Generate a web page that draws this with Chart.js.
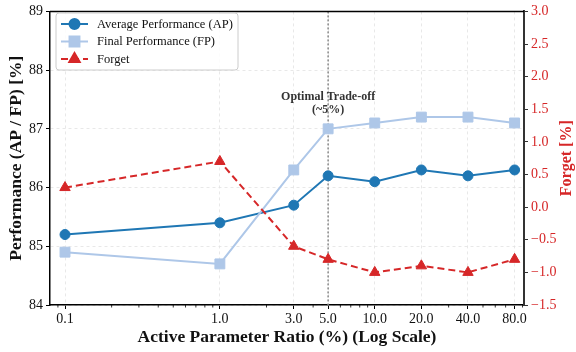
<!DOCTYPE html>
<html><head><meta charset="utf-8">
<script src="https://cdn.jsdelivr.net/npm/chart.js@4.4.0/dist/chart.umd.min.js"></script>
<style>html,body{margin:0;padding:0;background:#fff}#wrap{width:576px;height:352px}</style>
</head><body><div id="wrap"><canvas id="c" width="576" height="352"></canvas></div>
<script>
const ratios = [0.1, 1, 3, 5, 10, 20, 40, 80];
const apValues = [85.2, 85.4, 85.7, 86.2, 86.1, 86.3, 86.2, 86.3];
const fpValues = [84.9, 84.7, 86.3, 87.0, 87.1, 87.2, 87.2, 87.1];
const forgetValues = [0.3, 0.7, -0.6, -0.8, -1.0, -0.9, -1.0, -0.8];
const xTicks = [0.1, 1, 3, 5, 10, 20, 40, 80];
const xMinorTicks = [0.09, 0.2, 0.3, 0.4, 0.5, 0.6, 0.7, 0.8, 0.9, 2, 4, 6, 7, 8, 9, 30, 50, 60, 70, 90];
const optimalRatio = 5;
const annotationLines = ['Optimal Trade-off', '(~5%)'];
const seriesNames = ['Average Performance (AP)', 'Final Performance (FP)', 'Forget'];

const SERIF = '"Liberation Serif", "Times New Roman", serif';
const C_AP = '#1f77b4', C_FP = '#aec7e8', C_FG = '#d62728';

const pts = vals => ratios.map((r, i) => ({x: r, y: vals[i]}));

const styles = [
  {color: C_AP, pointStyle: 'circle', radius: 5, dash: []},
  {color: C_FP, pointStyle: 'rect', radius: 7, dash: []},
  {color: C_FG, pointStyle: 'triangle', radius: 6, dash: [7, 4]}
];

const extras = {
  id: 'extras',
  beforeDatasetsDraw(chart) {
    const {ctx, chartArea: a, scales: {x}} = chart;
    const px = x.getPixelForValue(optimalRatio);
    ctx.save();
    ctx.strokeStyle = '#888';
    ctx.lineWidth = 1.5;
    ctx.setLineDash([2, 2]);
    ctx.beginPath(); ctx.moveTo(px, a.top); ctx.lineTo(px, a.bottom); ctx.stroke();
    ctx.restore();
  },
  afterDraw(chart) {
    const {ctx, chartArea: a, scales: {x}} = chart;
    ctx.save();
    // top spine
    ctx.strokeStyle = '#000'; ctx.lineWidth = 1.5;
    ctx.beginPath(); ctx.moveTo(a.left, a.top); ctx.lineTo(a.right, a.top); ctx.stroke();
    // minor ticks
    ctx.lineWidth = 0.8;
    xMinorTicks.forEach(v => {
      if (v < x.min || v > x.max) return;
      const px = x.getPixelForValue(v);
      ctx.beginPath(); ctx.moveTo(px, a.bottom); ctx.lineTo(px, a.bottom + 2.5); ctx.stroke();
    });
    // annotation
    const px = x.getPixelForValue(optimalRatio);
    ctx.fillStyle = '#333';
    ctx.font = 'bold 12px ' + SERIF;
    ctx.textAlign = 'center'; ctx.textBaseline = 'middle';
    ctx.fillText(annotationLines[0], px, 97);
    ctx.fillText(annotationLines[1], px, 110);
    // right title
    ctx.save();
    ctx.translate(567, (a.top + a.bottom) / 2);
    ctx.rotate(-Math.PI / 2);
    ctx.fillStyle = C_FG;
    ctx.font = 'bold 16px ' + SERIF;
    ctx.fillText('Forget [%]', 0, 0);
    ctx.restore();
    // legend
    const lx = 56, ly = 13, lw = 182, lh = 57;
    ctx.fillStyle = 'rgba(255,255,255,0.85)';
    ctx.strokeStyle = '#ccc'; ctx.lineWidth = 1;
    ctx.beginPath();
    if (ctx.roundRect) ctx.roundRect(lx, ly, lw, lh, 3); else ctx.rect(lx, ly, lw, lh);
    ctx.fill(); ctx.stroke();
    const rows = [24, 41.5, 59];
    seriesNames.forEach((name, i) => {
      const s = styles[i], y = rows[i];
      ctx.strokeStyle = s.color; ctx.lineWidth = 2; ctx.setLineDash(s.dash);
      ctx.beginPath(); ctx.moveTo(61, y); ctx.lineTo(88, y); ctx.stroke();
      ctx.setLineDash([]);
      ctx.fillStyle = s.color;
      Chart.helpers.drawPoint(ctx, {pointStyle: s.pointStyle, radius: s.radius, rotation: 0, borderWidth: 1}, 74.5, y);
      ctx.fill();
      ctx.fillStyle = '#111';
      ctx.font = '12.5px ' + SERIF;
      ctx.textAlign = 'left'; ctx.textBaseline = 'middle';
      ctx.fillText(name, 97, y + 0.5);
    });
    ctx.restore();
  }
};

const mkDs = (label, vals, i, axis) => ({
  label, data: pts(vals), yAxisID: axis,
  borderColor: styles[i].color, backgroundColor: styles[i].color,
  pointBackgroundColor: styles[i].color, pointBorderColor: styles[i].color,
  borderWidth: 2, borderDash: styles[i].dash,
  pointStyle: styles[i].pointStyle, pointRadius: styles[i].radius, pointBorderWidth: 1,
  tension: 0, clip: false
});

new Chart(document.getElementById('c'), {
  type: 'line',
  data: {
    datasets: [
      mkDs(seriesNames[2], forgetValues, 2, 'y1'),
      mkDs(seriesNames[1], fpValues, 1, 'y'),
      mkDs(seriesNames[0], apValues, 0, 'y')
    ]
  },
  options: {
    responsive: false, animation: false, devicePixelRatio: 1,
    layout: {padding: {top: 7, left: 0, right: 0, bottom: 0}},
    plugins: {legend: {display: false}, tooltip: {enabled: false}},
    scales: {
      x: {
        type: 'logarithmic', min: 0.08, max: 92,
        afterBuildTicks: s => { s.ticks = xTicks.map(v => ({value: v})); },
        afterFit: s => { s.height = 47; },
        ticks: {callback: v => Number(v).toFixed(1), autoSkip: false, maxRotation: 0, color: '#111', font: {family: SERIF, size: 14}, padding: 2},
        grid: {color: '#e3e3e3', lineWidth: 0.8, tickLength: 4, tickColor: '#000', tickWidth: 1},
        border: {display: true, color: '#000', width: 1.5, dash: [3, 3]},
        title: {display: true, text: 'Active Parameter Ratio (%) (Log Scale)', color: '#111', font: {family: SERIF, size: 17.5, weight: 'bold'}, padding: {top: 0, bottom: 4}}
      },
      y: {
        position: 'left', min: 84, max: 89,
        afterFit: s => { s.width = 50; },
        ticks: {stepSize: 1, color: '#111', font: {family: SERIF, size: 14}, padding: 3},
        grid: {color: '#e3e3e3', lineWidth: 0.8, tickLength: 4, tickColor: '#000', tickWidth: 1},
        border: {display: true, color: '#000', width: 1.5, dash: [3, 3]},
        title: {display: true, text: 'Performance (AP / FP) [%]', color: '#111', font: {family: SERIF, size: 17.5, weight: 'bold'}, padding: {top: 6, bottom: 0}}
      },
      y1: {
        position: 'right', min: -1.5, max: 3.0,
        afterFit: s => { s.width = 52; },
        ticks: {stepSize: 0.5, color: C_FG, font: {family: SERIF, size: 14}, padding: 3,
          callback: v => Number(v).toFixed(1).replace('-', '\u2212')},
        grid: {drawOnChartArea: false, tickLength: 4, tickColor: '#333', tickWidth: 1},
        border: {display: true, color: '#333', width: 2}
      }
    }
  },
  plugins: [extras]
});
</script></body></html>
